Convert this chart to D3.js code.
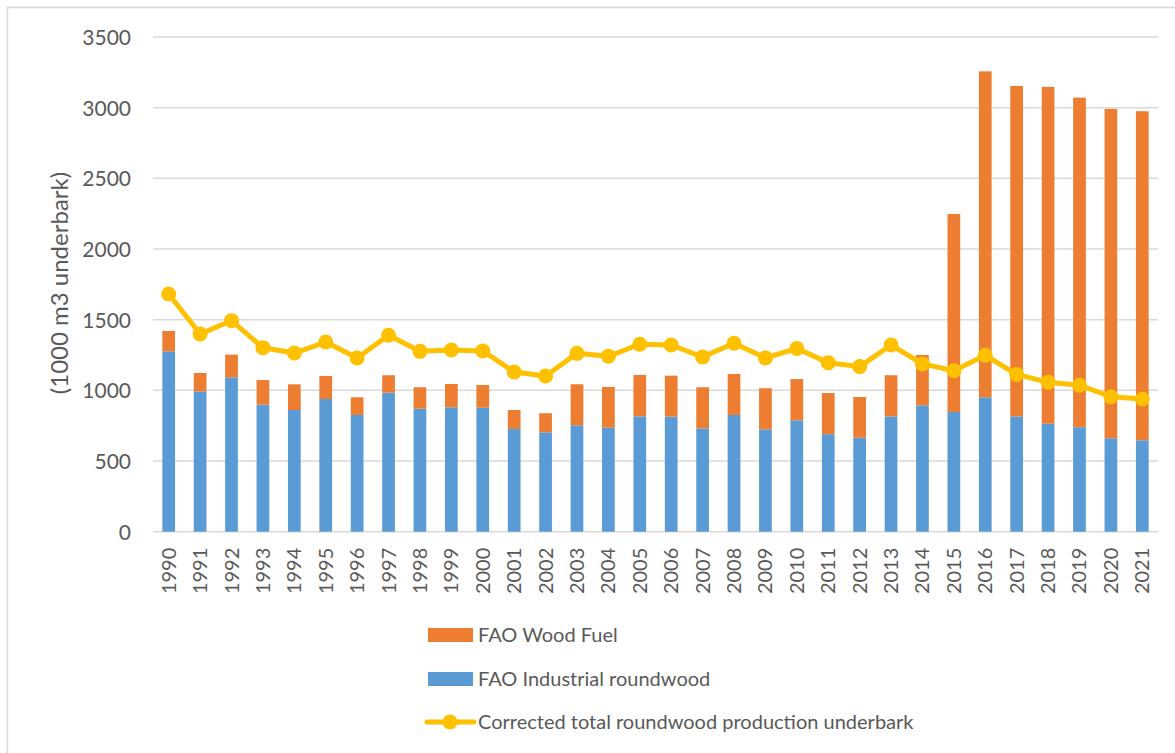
<!DOCTYPE html>
<html>
<head>
<meta charset="utf-8">
<script src="https://cdn.jsdelivr.net/npm/d3@7"></script>
<style>
  html, body { margin: 0; padding: 0; background: #fff; }
  svg { display: block; }
  text { font-family: Lato, "Open Sans", sans-serif; fill: #595959; }
</style>
</head>
<body>
<svg id="chart" width="1175" height="753"></svg>
<script>
// Years on the category axis
const years = ["1990","1991","1992","1993","1994","1995","1996","1997","1998","1999",
  "2000","2001","2002","2003","2004","2005","2006","2007","2008","2009",
  "2010","2011","2012","2013","2014","2015","2016","2017","2018","2019",
  "2020","2021"];

// FAO industrial roundwood (1000 m3 underbark)
const industrial = [1276, 993, 1092, 899, 861, 939, 826, 984, 870, 880,
  877, 727, 703, 753, 736, 816, 814, 731, 826, 724,
  788, 690, 665, 816, 894, 847, 951, 816, 764, 739,
  661, 647];

// FAO wood fuel (1000 m3 underbark)
const woodFuel = [144, 130, 161, 174, 182, 163, 125, 123, 152, 165,
  161, 134, 135, 290, 288, 293, 290, 291, 290, 291,
  292, 291, 288, 291, 356, 1401, 2306, 2338, 2383, 2332,
  2330, 2328];

// Corrected total roundwood production underbark
const corrected = [1682, 1399, 1493, 1302, 1264, 1342, 1229, 1390, 1276, 1286,
  1279, 1130, 1102, 1262, 1241, 1326, 1321, 1236, 1333, 1229,
  1297, 1196, 1168, 1321, 1187, 1139, 1248, 1113, 1057, 1036,
  955, 939];

const yTicks = [0, 500, 1000, 1500, 2000, 2500, 3000, 3500];

const seriesNames = {
  fuel: "FAO Wood Fuel",
  industrial: "FAO Industrial roundwood",
  corrected: "Corrected total roundwood production underbark"
};

const colors = { fuel: "#ED7D31", industrial: "#5B9BD5", corrected: "#FFC000", grid: "#D9D9D9" };
const fontFamily = "Lato, 'Open Sans', sans-serif";

const svg = d3.select("#chart");

// Outer frame (left and top edges)
svg.append("path")
  .attr("d", "M7.5,760 L7.5,7.5 L1180,7.5")
  .attr("fill", "none")
  .attr("stroke", colors.grid)
  .attr("stroke-width", 1.5);

const plot = { left: 153, right: 1158, top: 37, bottom: 531.7 };

const x = d3.scaleBand()
  .domain(years)
  .range([plot.left, plot.right])
  .paddingInner(0.595)
  .paddingOuter(0.2975);

const y = d3.scaleLinear()
  .domain([0, 3500])
  .range([plot.bottom, plot.top]);

// Horizontal gridlines
svg.append("g")
  .selectAll("line")
  .data(yTicks)
  .join("line")
  .attr("x1", plot.left)
  .attr("x2", plot.right)
  .attr("y1", d => y(d))
  .attr("y2", d => y(d))
  .attr("stroke", colors.grid)
  .attr("stroke-width", 1.5);

// Y axis tick labels
const yAxis = d3.axisLeft(y).tickValues(yTicks).tickFormat(d3.format("d")).tickSize(0).tickPadding(0);
const gy = svg.append("g")
  .attr("transform", `translate(${plot.left - 22},0)`)
  .call(yAxis);
gy.select(".domain").remove();
gy.selectAll("text")
  .attr("font-size", 21)
  .attr("font-family", fontFamily)
  .attr("fill", "#595959")
  .attr("dy", "0.35em");

// Y axis title
svg.append("text")
  .attr("transform", "translate(68,283) rotate(-90)")
  .attr("text-anchor", "middle")
  .attr("font-size", 24)
  .text("(1000 m3 underbark)");

// Stacked bars: industrial roundwood below, wood fuel above
const rows = years.map((yr, i) => ({ year: yr, industrial: industrial[i], fuel: woodFuel[i] }));
const stack = d3.stack().keys(["industrial", "fuel"]);
const stacked = stack(rows);

svg.append("g")
  .selectAll("g")
  .data(stacked)
  .join("g")
  .attr("fill", d => colors[d.key])
  .selectAll("rect")
  .data(d => d)
  .join("rect")
  .attr("x", d => x(d.data.year))
  .attr("width", x.bandwidth())
  .attr("y", d => y(d[1]))
  .attr("height", d => y(d[0]) - y(d[1]));

// X axis labels (rotated years)
const xAxis = d3.axisBottom(x).tickSize(0).tickPadding(0);
const gx = svg.append("g")
  .attr("transform", `translate(0,${plot.bottom})`)
  .call(xAxis);
gx.select(".domain").remove();
gx.selectAll("text")
  .attr("font-size", 20)
  .attr("font-family", fontFamily)
  .attr("fill", "#595959")
  .attr("transform", "rotate(-90)")
  .attr("text-anchor", "end")
  .attr("x", -16)
  .attr("y", 0)
  .attr("dy", "0.35em");

// Corrected total line with markers
const cx = (d, i) => x(years[i]) + x.bandwidth() / 2;
const line = d3.line()
  .x((d, i) => cx(d, i))
  .y(d => y(d));

svg.append("path")
  .datum(corrected)
  .attr("d", line)
  .attr("fill", "none")
  .attr("stroke", colors.corrected)
  .attr("stroke-width", 5)
  .attr("stroke-linejoin", "round");

svg.append("g")
  .selectAll("circle")
  .data(corrected)
  .join("circle")
  .attr("cx", (d, i) => cx(d, i))
  .attr("cy", d => y(d))
  .attr("r", 7.5)
  .attr("fill", colors.corrected);

// Legend
const legend = svg.append("g").attr("transform", "translate(428,0)");
const legendRows = [
  { key: "fuel", type: "rect", y: 635 },
  { key: "industrial", type: "rect", y: 679 },
  { key: "corrected", type: "line", y: 722 }
];

legendRows.forEach(r => {
  const g = legend.append("g").attr("transform", `translate(0,${r.y})`);
  if (r.type === "rect") {
    g.append("rect")
      .attr("x", 0).attr("y", -7)
      .attr("width", 45).attr("height", 14)
      .attr("fill", colors[r.key]);
  } else {
    g.append("line")
      .attr("x1", -1).attr("x2", 46)
      .attr("y1", 0).attr("y2", 0)
      .attr("stroke", colors[r.key])
      .attr("stroke-width", 5)
      .attr("stroke-linecap", "round");
    g.append("circle")
      .attr("cx", 22).attr("cy", 0).attr("r", 7.5)
      .attr("fill", colors[r.key]);
  }
  g.append("text")
    .attr("x", 50)
    .attr("y", 0)
    .attr("dy", "0.35em")
    .attr("font-size", 20)
    .text(seriesNames[r.key]);
});
</script>
</body>
</html>
